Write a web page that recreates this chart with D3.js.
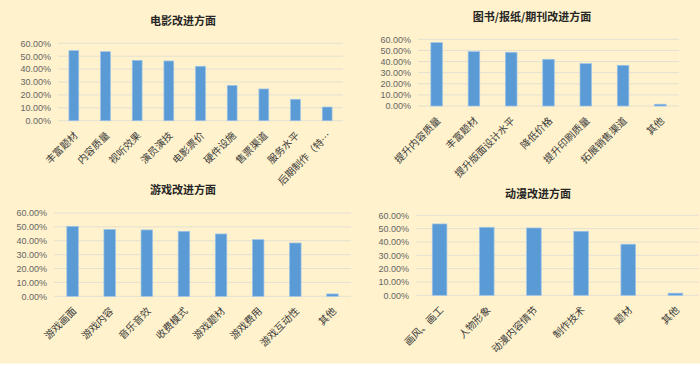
<!DOCTYPE html>
<html>
<head>
<meta charset="utf-8">
<script src="https://cdn.jsdelivr.net/npm/d3@7"></script>
<style>
  html, body { margin: 0; padding: 0; background: #fff2cc; }
  svg { display: block; }
</style>
</head>
<body>
<svg id="chart" width="700" height="366"></svg>
<script>
// ---- Data ----
const yTicks = [0, 0.1, 0.2, 0.3, 0.4, 0.5, 0.6];

const filmTitle = "电影改进方面";
const filmCats = ["丰富题材", "内容质量", "视听效果", "演员演技", "电影票价", "硬件设施", "售票渠道", "服务水平", "后期制作（特…"];
const filmVals = [0.543, 0.535, 0.468, 0.463, 0.422, 0.274, 0.246, 0.166, 0.106];

const bookTitle = "图书/报纸/期刊改进方面";
const bookCats = ["提升内容质量", "丰富题材", "提升版面设计水平", "降低价格", "提升印刷质量", "拓展销售渠道", "其他"];
const bookVals = [0.570, 0.489, 0.483, 0.420, 0.381, 0.366, 0.016];

const gameTitle = "游戏改进方面";
const gameCats = ["游戏画面", "游戏内容", "音乐音效", "收费模式", "游戏题材", "游戏费用", "游戏互动性", "其他"];
const gameVals = [0.504, 0.482, 0.478, 0.468, 0.449, 0.408, 0.384, 0.017];

const animeTitle = "动漫改进方面";
const animeCats = ["画风、画工", "人物形象", "动漫内容情节", "制作技术", "题材", "其他"];
const animeVals = [0.535, 0.510, 0.505, 0.480, 0.383, 0.016];

// ---- Layout (positions only) ----
const panels = [
  { title: filmTitle, cats: filmCats, vals: filmVals, x0: 58, x1: 343, y0: 120.7, y1: 43.3, tx: 183, ty: 21 },
  { title: bookTitle, cats: bookCats, vals: bookVals, x0: 418, x1: 679, y0: 106, y1: 39.3, tx: 532, ty: 17 },
  { title: gameTitle, cats: gameCats, vals: gameVals, x0: 54, x1: 351, y0: 296.3, y1: 213, tx: 183, ty: 190 },
  { title: animeTitle, cats: animeCats, vals: animeVals, x0: 416, x1: 699, y0: 295.3, y1: 215.3, tx: 538, ty: 194 }
];

const svg = d3.select("#chart");
svg.append("rect").attr("width", 700).attr("height", 366).attr("fill", "#fff2cc");
svg.append("rect").attr("x", 0).attr("y", 363.5).attr("width", 700).attr("height", 3).attr("fill", "#ffffff");

const fmt = d3.format(".2%");

panels.forEach(p => {
  const g = svg.append("g");
  const x = d3.scaleBand().domain(p.cats).range([p.x0, p.x1]).paddingInner(0.69).paddingOuter(0.345);
  const y = d3.scaleLinear().domain([0, 0.6]).range([p.y0, p.y1]);

  // gridlines
  g.selectAll("line.grid").data(yTicks).join("line")
    .attr("x1", p.x0).attr("x2", p.x1)
    .attr("y1", d => y(d)).attr("y2", d => y(d))
    .attr("stroke", "#e4e0d2").attr("stroke-width", 1);

  // y axis labels
  const yAxis = d3.axisLeft(y).tickValues(yTicks).tickFormat(fmt).tickSize(0).tickPadding(0);
  const ya = g.append("g").attr("transform", `translate(${p.x0 - 7},0)`).call(yAxis);
  ya.select(".domain").remove();
  ya.selectAll("text")
    .attr("fill", "#666666")
    .style("font-family", "'Liberation Sans', Arial, sans-serif")
    .style("font-size", "9px");

  // bars
  g.selectAll("rect.bar").data(p.vals).join("rect")
    .attr("x", (d, i) => x(p.cats[i]))
    .attr("width", x.bandwidth())
    .attr("y", d => y(d))
    .attr("height", d => y(0) - y(d))
    .attr("fill", "#5b9bd5")
    .attr("stroke", "#9cc3ea")
    .attr("stroke-width", 0.7);

  // x labels
  const xAxis = d3.axisBottom(x).tickSize(0).tickPadding(0);
  const xa = g.append("g").attr("transform", `translate(0,${p.y0})`).call(xAxis);
  xa.select(".domain").remove();
  xa.selectAll("text")
    .attr("text-anchor", "end")
    .attr("dy", "0.35em")
    .attr("transform", "translate(2,13) rotate(-45)")
    .attr("fill", "#3a3a3a")
    .style("font-family", "'Noto Sans CJK SC', sans-serif")
    .style("font-size", "10px");

  // title
  g.append("text")
    .attr("x", p.tx).attr("y", p.ty)
    .attr("text-anchor", "middle").attr("dy", "0.35em")
    .attr("fill", "#262626")
    .style("font-family", "'Noto Sans CJK SC', sans-serif")
    .style("font-weight", "bold")
    .style("font-size", "11px")
    .text(p.title);
});
</script>
</body>
</html>
